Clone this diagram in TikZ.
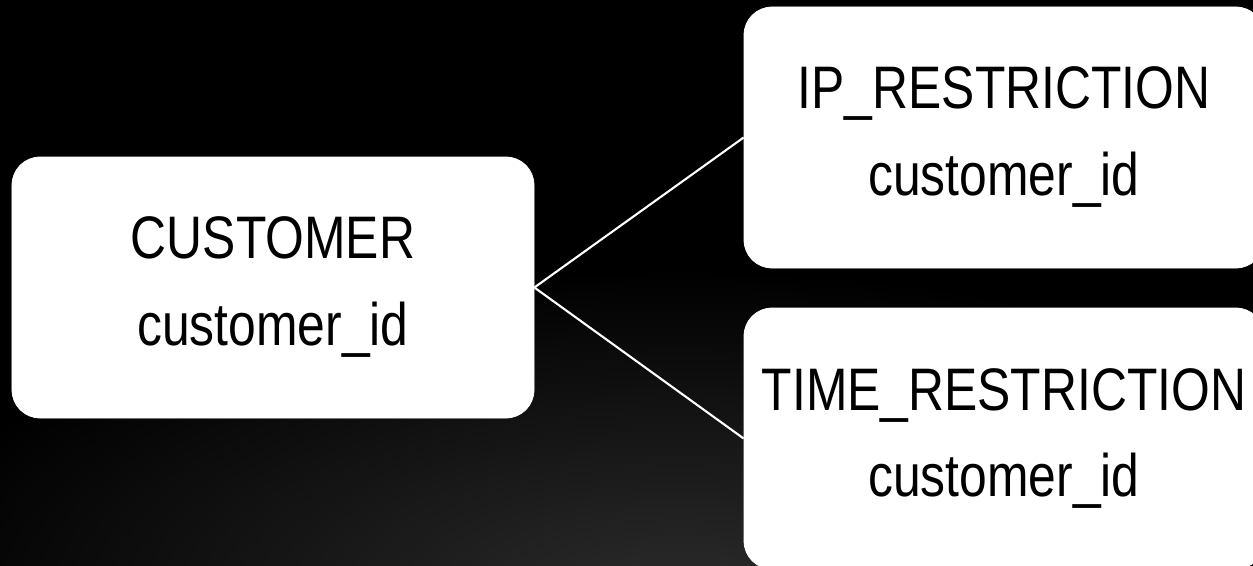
\documentclass[tikz,border=0pt]{standalone}
\usepackage{fontspec}
\setmainfont{Liberation Sans}[FakeStretch=0.83]
\usepackage{tikz}
\definecolor{glowgray}{RGB}{44,44,44}

\begin{document}
\begin{tikzpicture}[x = 0.2mm, y = -0.2mm, font = \fontsize{34.15pt}{49.5pt}\selectfont,
        table/.style = {draw = white, fill = white, rounded corners = 5.6mm, minimum width = 104.4mm,
            minimum height = 52.2mm, align = center, inner sep = 0pt},
        link/.style = {white, line width = 1.2pt}]
        \clip (0,0) rectangle (1253,565);
        \fill[black] (0,0) rectangle (1253,565);
        \shade[inner color = glowgray, outer color = black] (680,600) ellipse (800 and 330);
        
        \node[table] (customer) at (273,287.5) {CUSTOMER\\customer\_id};
        \node[table, minimum width = 104mm] (ip) at (1004,137.5) {IP\_RESTRICTION\\customer\_id};
        \node[table, minimum width = 104mm] (time) at (1004,438.5) {TIME\_RESTRICTION\\customer\_id};
        
        \draw[link] (customer.east) -- (ip.west);
        \draw[link] (customer.east) -- (time.west);
    \end{tikzpicture}
\end{document}
